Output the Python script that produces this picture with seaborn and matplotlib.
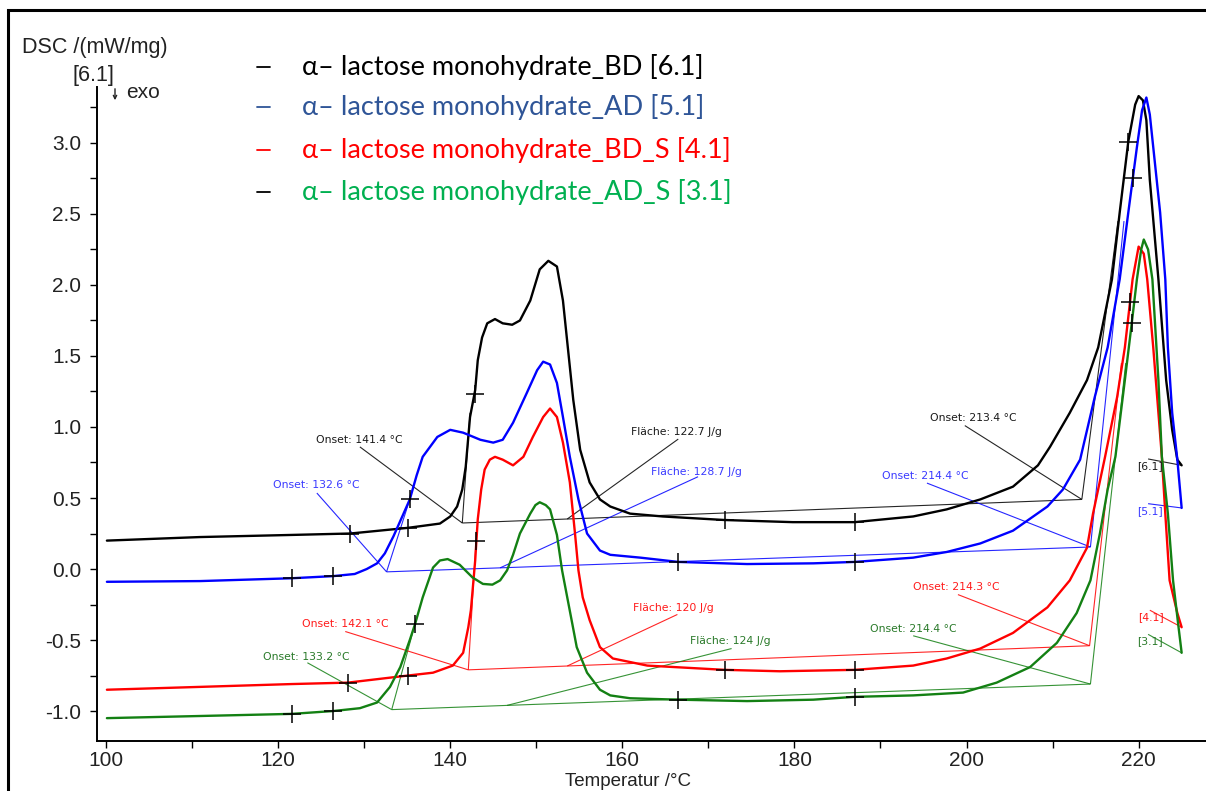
import numpy as np
import pandas as pd
import matplotlib
matplotlib.use("Agg")
import matplotlib.pyplot as plt
from matplotlib.lines import Line2D
from matplotlib.patches import Rectangle, FancyArrowPatch
import seaborn as sns

# ---------------------------------------------------------------------------
# DSC traces: temperature (°C) and heat flow DSC (mW/mg)
# ---------------------------------------------------------------------------
t_bd = [100.1, 110.9, 121.6, 128.4, 135.1, 138.8, 140.0, 140.8, 141.4, 141.8,
        142.3, 142.9, 143.2, 143.7, 144.3, 145.2, 146.1, 147.2, 148.1, 149.3,
        150.4, 151.4, 152.4, 153.1, 153.7, 154.3, 155.1, 156.2, 157.4, 158.6,
        160.9, 164.7, 171.9, 179.8, 187.0, 193.8, 197.7, 201.6, 205.4, 208.3,
        209.7, 212.0, 214.0, 215.3, 216.9, 217.8, 218.8, 219.6, 220.0, 220.5,
        220.9, 221.3, 222.3, 223.2, 223.9, 224.5, 225.0]
dsc_bd = [0.20, 0.225, 0.24, 0.25, 0.29, 0.32, 0.37, 0.44, 0.56, 0.72,
          1.07, 1.26, 1.47, 1.63, 1.73, 1.76, 1.73, 1.72, 1.75, 1.89,
          2.11, 2.17, 2.13, 1.89, 1.54, 1.19, 0.84, 0.61, 0.49, 0.44,
          0.39, 0.37, 0.345, 0.33, 0.33, 0.37, 0.42, 0.49, 0.58, 0.73,
          0.86, 1.10, 1.33, 1.56, 2.04, 2.51, 3.01, 3.27, 3.33, 3.30,
          3.16, 2.74, 2.04, 1.33, 0.98, 0.77, 0.73]

t_ad = [100.1, 110.9, 121.6, 126.4, 128.9, 130.3, 131.5, 132.4, 133.4, 134.5,
        135.3, 136.1, 136.8, 138.5, 140.0, 141.5, 143.5, 145.0, 146.1, 147.3,
        148.9, 150.1, 150.8, 151.6, 152.4, 153.1, 153.9, 154.9, 155.9, 157.4,
        158.6, 162.1, 166.5, 174.5, 182.2, 187.0, 193.8, 197.7, 201.6, 205.4,
        209.4, 211.2, 213.2, 214.9, 216.4, 217.8, 218.8, 219.8, 220.4, 220.9,
        221.3, 221.7, 222.5, 223.1, 223.4, 223.9, 224.5, 225.0]
dsc_ad = [-0.09, -0.085, -0.065, -0.05, -0.035, 0.0, 0.04, 0.11, 0.23, 0.38,
          0.49, 0.66, 0.79, 0.93, 0.98, 0.96, 0.91, 0.89, 0.91, 1.03,
          1.24, 1.40, 1.46, 1.44, 1.31, 1.07, 0.79, 0.49, 0.25, 0.13,
          0.10, 0.08, 0.05, 0.035, 0.04, 0.05, 0.08, 0.12, 0.18, 0.27,
          0.44, 0.56, 0.77, 1.21, 1.56, 2.04, 2.51, 2.97, 3.23, 3.32,
          3.20, 2.97, 2.51, 2.04, 1.56, 1.10, 0.77, 0.43]

t_bd_s = [100.1, 110.9, 121.6, 128.1, 135.1, 138.0, 140.3, 141.5, 142.1, 142.4,
          142.9, 143.2, 143.6, 144.0, 144.6, 145.2, 146.1, 147.3, 148.5, 149.6,
          150.8, 151.6, 152.4, 153.1, 153.9, 154.5, 154.9, 155.4, 156.2, 157.4,
          158.9, 162.9, 171.9, 178.3, 187.0, 193.8, 197.7, 201.6, 205.4, 209.4,
          212.0, 214.0, 214.7, 215.4, 216.1, 217.5, 218.4, 219.3, 220.0, 220.6,
          221.0, 221.7, 222.3, 222.7, 223.1, 223.6, 224.5, 225.0]
dsc_bd_s = [-0.85, -0.83, -0.81, -0.80, -0.75, -0.73, -0.68, -0.59, -0.41, -0.29,
            0.06, 0.35, 0.56, 0.70, 0.77, 0.79, 0.77, 0.73, 0.79, 0.93,
            1.07, 1.13, 1.07, 0.89, 0.61, 0.25, -0.01, -0.20, -0.36, -0.55,
            -0.63, -0.68, -0.71, -0.72, -0.71, -0.68, -0.63, -0.56, -0.45, -0.27,
            -0.08, 0.15, 0.39, 0.59, 0.79, 1.21, 1.56, 2.04, 2.27, 2.22,
            2.04, 1.56, 1.10, 0.79, 0.39, -0.08, -0.31, -0.41]

t_ad_s = [100.1, 110.9, 121.6, 126.4, 129.5, 131.5, 133.0, 134.2, 135.3, 135.9,
          136.8, 138.0, 138.8, 139.7, 141.1, 142.6, 143.8, 144.9, 145.8, 146.6,
          147.3, 148.1, 149.3, 149.9, 150.4, 151.1, 151.6, 152.4, 153.0, 153.6,
          154.2, 154.7, 155.9, 157.4, 158.6, 160.9, 166.5, 174.5, 182.2, 187.0,
          193.8, 199.6, 203.5, 207.4, 210.5, 212.8, 214.4, 215.5, 216.4, 217.3,
          218.4, 219.2, 219.8, 220.3, 220.6, 221.1, 221.6, 222.3, 222.7, 223.4,
          224.0, 224.6, 225.0]
dsc_ad_s = [-1.05, -1.035, -1.02, -1.00, -0.98, -0.94, -0.83, -0.69, -0.50, -0.39,
            -0.20, 0.01, 0.06, 0.07, 0.03, -0.06, -0.105, -0.11, -0.08, -0.01,
            0.10, 0.25, 0.39, 0.45, 0.47, 0.45, 0.42, 0.24, -0.01, -0.20,
            -0.39, -0.55, -0.73, -0.85, -0.89, -0.91, -0.92, -0.93, -0.92, -0.90,
            -0.89, -0.87, -0.80, -0.69, -0.52, -0.31, -0.08, 0.25, 0.56, 0.79,
            1.33, 1.73, 2.04, 2.25, 2.32, 2.25, 2.04, 1.33, 0.79, 0.39,
            -0.08, -0.39, -0.59]

samples = ["α– lactose monohydrate_BD [6.1]",
           "α– lactose monohydrate_AD [5.1]",
           "α– lactose monohydrate_BD_S [4.1]",
           "α– lactose monohydrate_AD_S [3.1]"]
file_tags = ["[6.1]", "[5.1]", "[4.1]", "[3.1]"]

# Evaluation results: dehydration step (onset, area) and melting onset
onset_1 = [141.4, 132.6, 142.1, 133.2]
onset_1_dsc = [0.324, -0.02, -0.71, -0.99]
area_1 = [122.7, 128.7, 120, 124]
onset_2 = [213.4, 214.4, 214.3, 214.4]
onset_2_dsc = [0.49, 0.155, -0.54, -0.81]

# Tangent end points of the onset constructions
tangent_1_end = [(142.3, 1.10), (135.3, 0.49), (143.0, 0.20), (135.9, -0.39)]
tangent_2_end = [(217.6, 2.45), (218.3, 2.45), (218.0, 1.45), (218.5, 1.45)]

# Cursor marks ("+") set on each trace
marks_t = [[128.4, 135.1, 142.9, 171.9, 187.0, 218.8],
           [121.6, 126.4, 135.3, 166.5, 187.0, 219.3],
           [128.1, 135.1, 143.05, 171.9, 187.0, 219.0],
           [121.6, 126.4, 135.9, 166.5, 187.0, 219.2]]
marks_dsc = [[0.25, 0.29, 1.23, 0.345, 0.33, 3.01],
             [-0.065, -0.05, 0.49, 0.05, 0.05, 2.75],
             [-0.80, -0.75, 0.20, -0.71, -0.71, 1.88],
             [-1.02, -1.00, -0.39, -0.92, -0.90, 1.73]]

# ---------------------------------------------------------------------------
line_colors = ["#000000", "#0000ff", "#ff0000", "#138013"]
note_colors = ["#1a1a1a", "#3a3aff", "#ff1a1a", "#2a7a2a"]
legend_text_colors = ["#000000", "#2f5597", "#ff0000", "#00b050"]
legend_dash_colors = ["#000000", "#2f5597", "#ff0000", "#000000"]

sns.set_theme(style="ticks")
plt.rcParams["font.family"] = ["Liberation Sans", "DejaVu Sans"]
plt.rcParams["axes.unicode_minus"] = False

W, H = 1206, 791
fig = plt.figure(figsize=(W / 100, H / 100), dpi=100)
fig.patch.set_facecolor("white")


def fx(px):
    return px / W


def fy(py):
    return 1 - py / H


ax = fig.add_axes([fx(97), fy(741), fx(1206) - fx(97), fy(87) - fy(741)])
ax.set_facecolor("white")

frames = [pd.DataFrame({"T": t, "DSC": v, "sample": s})
          for t, v, s in zip([t_bd, t_ad, t_bd_s, t_ad_s],
                             [dsc_bd, dsc_ad, dsc_bd_s, dsc_ad_s], samples)]
df = pd.concat(frames, ignore_index=True)
sns.lineplot(data=df, x="T", y="DSC", hue="sample", hue_order=samples,
             palette=dict(zip(samples, line_colors)), sort=False,
             estimator=None, linewidth=1.7, legend=False, ax=ax, zorder=3)

# Onset / area constructions
thin = dict(lw=0.8, alpha=0.85, zorder=2, solid_capstyle="butt")
for i in range(4):
    c = line_colors[i]
    t1, y1 = onset_1[i], onset_1_dsc[i]
    t2, y2 = onset_2[i], onset_2_dsc[i]
    ax.plot([t1, t2], [y1, y2], color=c, **thin)
    ax.plot([t1, tangent_1_end[i][0]], [y1, tangent_1_end[i][1]], color=c, **thin)
    ax.plot([t2, tangent_2_end[i][0]], [y2, tangent_2_end[i][1]], color=c, **thin)
    ax.plot(marks_t[i], marks_dsc[i], ls="none", marker="+", ms=13, mew=1.1,
            color="black", zorder=4)

# Result labels with leader lines: (text x, text y, leader start, leader end)
label_font = dict(fontsize=7.8, family=["DejaVu Sans"])
onset1_layout = [((124.4, 0.91), (129.5, 0.86)), ((119.4, 0.59), (124.5, 0.535)),
                 ((122.8, -0.39), (127.8, -0.44)), ((118.2, -0.62), (123.4, -0.66))]
area_layout = [((161.0, 0.965), (166.5, 0.915), 153.6),
               ((163.3, 0.68), (168.8, 0.65), 145.8),
               ((161.2, -0.275), (166.4, -0.32), 153.6),
               ((167.9, -0.51), (172.7, -0.56), 146.6)]
onset2_layout = [((195.8, 1.06), (199.8, 1.01)), ((190.2, 0.655), (195.4, 0.605)),
                 ((193.8, -0.13), (199.0, -0.18)), ((188.8, -0.42), (193.8, -0.47))]

for i in range(4):
    c = note_colors[i]
    lc = line_colors[i]
    (tx, ty), (lx, ly) = onset1_layout[i]
    ax.text(tx, ty, f"Onset: {onset_1[i]:.1f} °C", color=c, va="center", **label_font)
    ax.plot([lx, onset_1[i]], [ly, onset_1_dsc[i]], color=lc, **thin)

    (tx, ty), (lx, ly), bx = area_layout[i]
    by = onset_1_dsc[i] + (bx - onset_1[i]) / (onset_2[i] - onset_1[i]) * (onset_2_dsc[i] - onset_1_dsc[i])
    ax.text(tx, ty, f"Fläche: {area_1[i]:g} J/g", color=c, va="center", **label_font)
    ax.plot([lx, bx], [ly, by], color=lc, **thin)

    (tx, ty), (lx, ly) = onset2_layout[i]
    ax.text(tx, ty, f"Onset: {onset_2[i]:.1f} °C", color=c, va="center", **label_font)
    ax.plot([lx, onset_2[i]], [ly, onset_2_dsc[i]], color=lc, **thin)

# File tags at the end of each trace
end_t = [t[-1] for t in (t_bd, t_ad, t_bd_s, t_ad_s)]
end_dsc = [v[-1] for v in (dsc_bd, dsc_ad, dsc_bd_s, dsc_ad_s)]
tag_pos = [(219.8, 0.725), (219.8, 0.41), (220.0, -0.34), (219.8, -0.51)]
for i in range(4):
    tx, ty = tag_pos[i]
    ax.text(tx, ty, file_tags[i], color=note_colors[i], va="center", **label_font)
    ax.plot([tx + 1.3, end_t[i]], [ty + 0.05, end_dsc[i]], color=line_colors[i], **thin)

# Axes styling
ax.set_xlim(98.95, 227.83)
ax.set_ylim(-1.211, 3.394)
ax.set_xticks(np.arange(100, 221, 20))
ax.set_xticks(np.arange(100, 226, 10), minor=True)
ax.set_yticks(np.arange(-1.0, 3.01, 0.5))
ax.set_yticks(np.arange(-1.0, 3.26, 0.25), minor=True)
ax.set_yticklabels([f"{v:.1f}" for v in np.arange(-1.0, 3.01, 0.5)])
ax.tick_params(axis="both", which="both", direction="out", length=5, width=1,
               color="black", labelsize=15, labelcolor="#222222")
ax.tick_params(axis="y", which="major", pad=6.5)
ax.tick_params(axis="x", which="major", pad=2.5)
ax.set_xlabel("")
ax.set_ylabel("")
sns.despine(ax=ax)
for side in ("left", "bottom"):
    ax.spines[side].set_linewidth(1.4)
    ax.spines[side].set_color("black")

# Axis titles and heat-flow direction
fig.text(fx(628), fy(781), "Temperatur /°C", ha="center", va="center",
         fontsize=13.5, color="#222222")
fig.text(fx(22), fy(48), "DSC /(mW/mg)", ha="left", va="center",
         fontsize=15.5, color="#222222")
fig.text(fx(73), fy(76), "[6.1]", ha="left", va="center", fontsize=15.5,
         color="#222222")
fig.text(fx(126), fy(93), "exo", ha="left", va="center", fontsize=15,
         color="#222222")
fig.add_artist(FancyArrowPatch((fx(115), fy(86)), (fx(115), fy(103)),
                               transform=fig.transFigure, arrowstyle="->",
                               mutation_scale=6, lw=1.0, color="#222222"))

# Sample key
legend_rows = [67, 107, 150, 192]
for i in range(4):
    y = fy(legend_rows[i])
    fig.add_artist(Line2D([fx(257), fx(270)], [y, y], transform=fig.transFigure,
                          color=legend_dash_colors[i], lw=1.3))
    fig.text(fx(302), y, samples[i], ha="left", va="center", fontsize=19.5,
             color=legend_text_colors[i], family=["Lato", "DejaVu Sans"])

# Outer frame
fig.add_artist(Rectangle((fx(8), -0.1), 1.2, fy(10) + 0.1, transform=fig.transFigure,
                         fill=False, lw=2.2, edgecolor="black"))

fig.savefig("out.png", dpi=100)
